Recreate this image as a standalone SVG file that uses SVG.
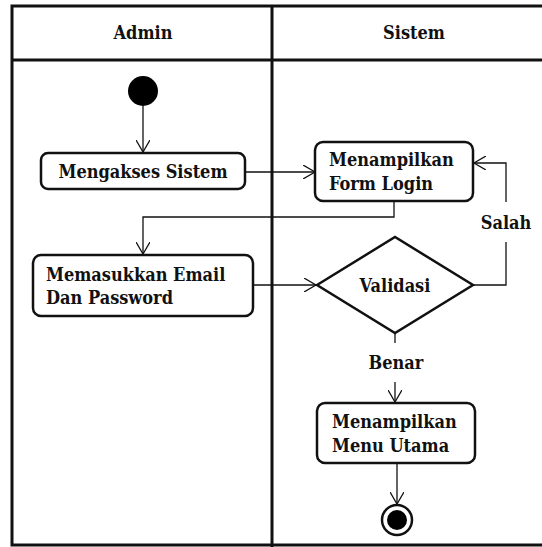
<svg xmlns="http://www.w3.org/2000/svg" width="542" height="547" viewBox="0 0 542 547">
  <style>
    .frame { fill: none; stroke: #111; stroke-width: 3; }
    .act { fill: #fff; stroke: #111; stroke-width: 2.5; }
    .flow { fill: none; stroke: #111; stroke-width: 1.3; }
    .lbl { font-family: "DejaVu Serif", "Liberation Serif", serif; font-stretch: condensed; font-weight: bold; font-size: 18px; fill: #111; }
    .mid { text-anchor: middle; }
  </style>
  <defs>
    <marker id="open" viewBox="0 0 12 14" refX="12" refY="7" markerWidth="12" markerHeight="14" markerUnits="userSpaceOnUse" orient="auto">
      <path d="M0,0 L12,7 L0,14" fill="none" stroke="#111" stroke-width="1.3"/>
    </marker>
  </defs>

  <!-- swimlane frame -->
  <g id="lanes">
    <rect class="frame" x="12" y="6" width="540" height="539"/>
    <line class="frame" x1="12" y1="60" x2="542" y2="60"/>
    <line class="frame" x1="272" y1="6" x2="272" y2="547"/>
    <text class="lbl mid" x="143" y="39">Admin</text>
    <text class="lbl mid" x="414" y="39">Sistem</text>
  </g>

  <!-- connectors -->
  <g id="connectors">
    <line class="flow" x1="143" y1="106" x2="143" y2="152" marker-end="url(#open)"/>
    <line class="flow" x1="245" y1="172" x2="315" y2="172" marker-end="url(#open)"/>
    <polyline class="flow" points="394,201 394,217 143,217 143,254" marker-end="url(#open)"/>
    <line class="flow" x1="253" y1="285" x2="316" y2="285" marker-end="url(#open)"/>
    <polyline class="flow" points="473,285 506,285 506,242"/>
    <polyline class="flow" points="506,202 506,163 474,163" marker-end="url(#open)"/>
    <text class="lbl mid" x="506" y="229">Salah</text>
    <line class="flow" x1="395" y1="333" x2="395" y2="343"/>
    <text class="lbl mid" x="396" y="369">Benar</text>
    <line class="flow" x1="395" y1="382" x2="395" y2="402" marker-end="url(#open)"/>
    <line class="flow" x1="397" y1="463" x2="397" y2="504" marker-end="url(#open)"/>
  </g>

  <g id="start">
    <circle cx="143" cy="91" r="15" fill="#000"/>
  </g>

  <g id="mengakses">
    <rect class="act" x="41" y="153" width="204" height="36" rx="7"/>
    <text class="lbl mid" x="143" y="178">Mengakses Sistem</text>
  </g>

  <g id="form-login">
    <rect class="act" x="315" y="142" width="158" height="59" rx="8"/>
    <text class="lbl" x="329" y="166">Menampilkan</text>
    <text class="lbl" x="329" y="190">Form Login</text>
  </g>

  <g id="memasukkan">
    <rect class="act" x="33" y="255" width="220" height="61" rx="8"/>
    <text class="lbl" x="46" y="281">Memasukkan Email</text>
    <text class="lbl" x="46" y="304">Dan Password</text>
  </g>

  <g id="validasi">
    <polygon class="act" points="317,285 395,237 473,285 395,333"/>
    <text class="lbl mid" x="395" y="292">Validasi</text>
  </g>

  <g id="menu-utama">
    <rect class="act" x="317" y="403" width="158" height="60" rx="8"/>
    <text class="lbl" x="332" y="428">Menampilkan</text>
    <text class="lbl" x="332" y="452">Menu Utama</text>
  </g>

  <g id="end">
    <circle cx="397" cy="520" r="15" fill="#fff" stroke="#111" stroke-width="2.5"/>
    <circle cx="397" cy="520" r="10" fill="#000"/>
  </g>
</svg>
